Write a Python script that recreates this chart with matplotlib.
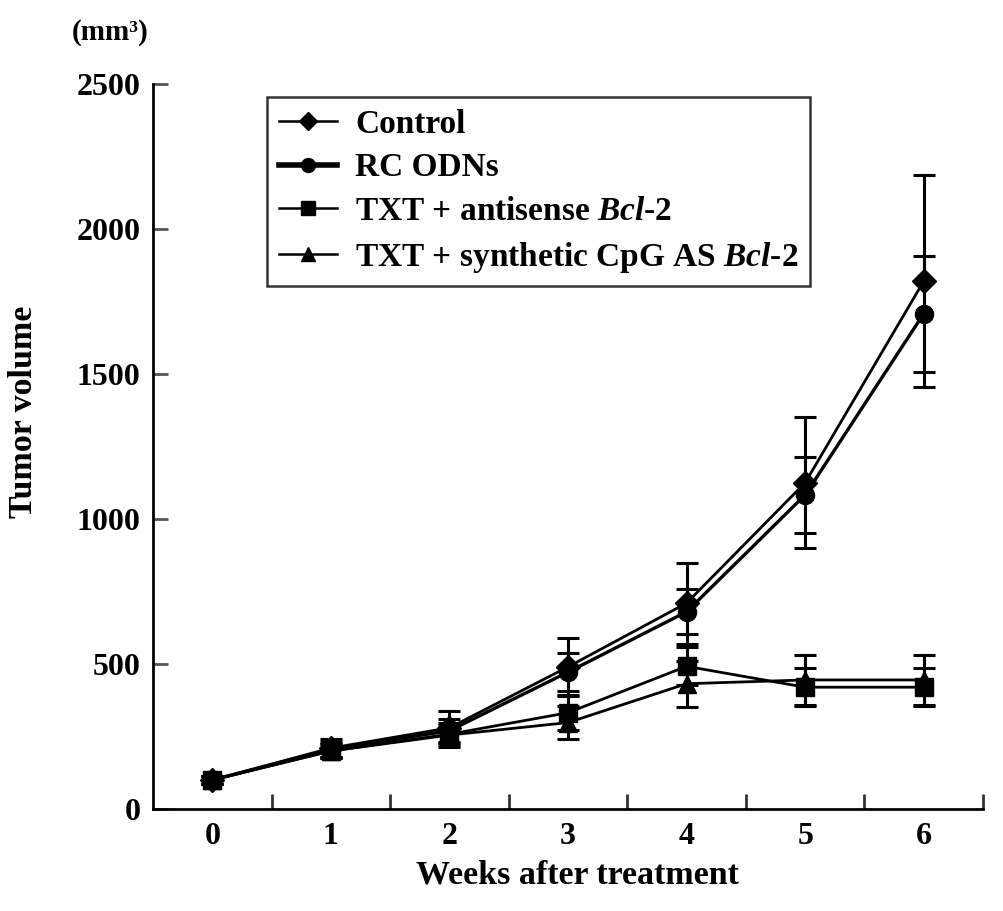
import matplotlib
matplotlib.use("Agg")
import matplotlib.pyplot as plt
from matplotlib.ticker import FixedLocator
from matplotlib.lines import Line2D

plt.rcParams['font.family'] = ['Liberation Serif', 'DejaVu Serif']
plt.rcParams['font.weight'] = 'bold'
plt.rcParams['mathtext.fontset'] = 'custom'
plt.rcParams['mathtext.it'] = 'Liberation Serif:italic'
plt.rcParams['mathtext.rm'] = 'Liberation Serif:bold'

weeks = [0, 1, 2, 3, 4, 5, 6]
control = [100, 210, 280, 490, 710, 1125, 1820]
control_err = [15, 30, 58, 100, 140, 225, 365]
rc_odns = [100, 205, 270, 472, 680, 1083, 1708]
rc_err = [15, 25, 40, 65, 78, 130, 200]
antisense = [100, 200, 258, 332, 492, 420, 420]
antisense_err = [15, 25, 30, 60, 65, 65, 65]
cpg = [100, 200, 255, 298, 432, 445, 445]
cpg_err = [15, 25, 40, 58, 80, 85, 85]

labels = ['Control', 'RC ODNs', 'TXT + antisense $Bcl$-$2$',
          'TXT + synthetic CpG AS $Bcl$-$2$']
y_ticks = [0, 500, 1000, 1500, 2000, 2500]
x_ticks = [0, 1, 2, 3, 4, 5, 6]

fig = plt.figure(figsize=(10.04, 9.11), dpi=100)
ax = fig.add_axes([153/1004, 102/911, 830/1004, 725/911])

series = [
    (control, control_err, 'D', 12, 2.0),
    (rc_odns, rc_err, 'o', 13, 2.4),
    (antisense, antisense_err, 's', 13, 2.0),
    (cpg, cpg_err, '^', 13, 2.0),
]
for (vals, errs, mk, ms, lw), lab in zip(series, labels):
    ax.errorbar(weeks, vals, yerr=errs, color='black', ecolor='black',
                elinewidth=2.2, capsize=8, capthick=2.2, zorder=2, fmt='none')
    ax.plot(weeks, vals, color='black', lw=lw, marker=mk, ms=ms,
            mfc='black', mec='black', zorder=3, label=lab)

ax.set_xlim(-0.5, 6.5)
ax.set_ylim(0, 2500)
ax.spines['top'].set_visible(False)
ax.spines['right'].set_visible(False)
for s in ['left', 'bottom']:
    ax.spines[s].set_linewidth(2)

ax.set_yticks(y_ticks)
ax.set_yticklabels([str(v) for v in y_ticks])
ax.tick_params(axis='y', direction='in', length=11, width=2, color='#555555',
               labelsize=23, pad=9)
ax.set_xticks(x_ticks)
ax.set_xticklabels([str(v) for v in x_ticks])
ax.tick_params(axis='x', length=0, labelsize=23, pad=9)
ax.xaxis.set_minor_locator(FixedLocator([0.5, 1.5, 2.5, 3.5, 4.5, 5.5, 6.5]))
ax.tick_params(axis='x', which='minor', direction='in', length=11, width=2,
               color='#333333')
for t in ax.get_xticklabels() + ax.get_yticklabels():
    t.set_fontweight('bold')

fig.text(577/1004, 1 - 875/911, 'Weeks after treatment', ha='center',
         va='center', fontsize=24.5, fontweight='bold')
fig.text(24/1004, 1 - 412/911, 'Tumor volume', ha='center', va='center',
         rotation=90, fontsize=24.5, fontweight='bold')
fig.text(110/1004, 1 - 33/911, '(mm³)', ha='center', va='center',
         fontsize=21, fontweight='bold')

leg_handles = [
    Line2D([], [], color='black', lw=1.8, marker='D', ms=9),
    Line2D([], [], color='black', lw=4, marker='o', ms=10),
    Line2D([], [], color='black', lw=1.8, marker='s', ms=10),
    Line2D([], [], color='black', lw=1.8, marker='^', ms=10),
]
leg = fig.legend(leg_handles, labels, loc='upper left',
                 bbox_to_anchor=(267/1004, 1 - 97/911),
                 prop={'family': 'Liberation Serif', 'weight': 'bold', 'size': 24},
                 frameon=True, fancybox=False, edgecolor='black',
                 handlelength=1.75, handletextpad=0.55, labelspacing=0.38,
                 borderpad=0.35, borderaxespad=0)
leg.get_frame().set_linewidth(1.8)

fig.savefig('out.png', dpi=100)
